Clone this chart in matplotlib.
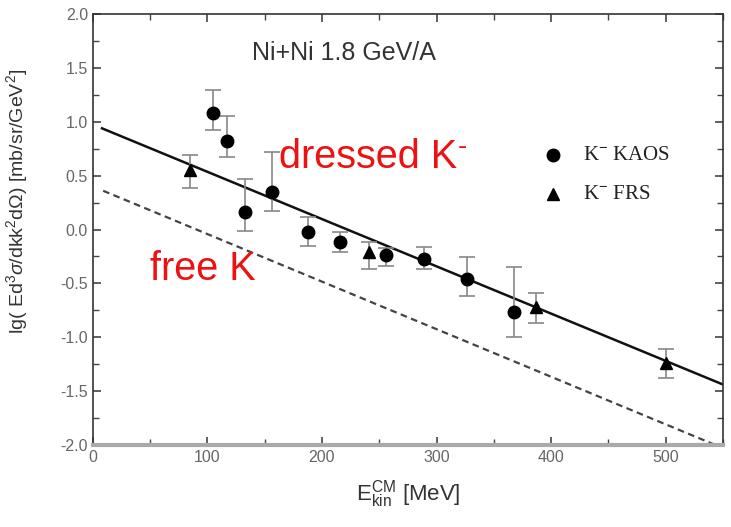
import matplotlib.pyplot as plt
from matplotlib.ticker import MultipleLocator
import numpy as np

plt.rcParams['font.family'] = ['Liberation Sans', 'DejaVu Sans']
plt.rcParams['mathtext.fontset'] = 'custom'
plt.rcParams['mathtext.rm'] = 'Liberation Sans'
plt.rcParams['mathtext.it'] = 'Liberation Sans:italic'

# K- KAOS data (circles)
kaos_e = [105, 117, 133, 156, 188, 216, 256, 289, 327, 368]
kaos_y = [1.08, 0.82, 0.16, 0.35, -0.02, -0.12, -0.24, -0.27, -0.46, -0.77]
kaos_up = [1.30, 1.05, 0.47, 0.72, 0.12, -0.02, -0.17, -0.16, -0.26, -0.35]
kaos_lo = [0.92, 0.67, -0.01, 0.17, -0.15, -0.21, -0.34, -0.37, -0.62, -1.00]

# K- FRS data (triangles)
frs_e = [85, 241, 387, 500]
frs_y = [0.55, -0.21, -0.72, -1.24]
frs_up = [0.69, -0.12, -0.59, -1.11]
frs_lo = [0.39, -0.37, -0.87, -1.38]

# model curves (straight lines in lg scale)
dressed_e = [8, 550]
dressed_y = [0.94, -1.44]
free_e = [9, 543]
free_y = [0.36, -2.0]

fig = plt.figure(figsize=(7.31, 5.27), dpi=100)
ax = fig.add_axes([0.127, 0.156, 0.862, 0.817])

ax.plot(dressed_e, dressed_y, color='#111111', lw=1.8)
ax.plot(free_e, free_y, color='#444444', lw=1.6, ls=(0, (3, 2)))

def errs(y, up, lo):
    y = np.array(y)
    return [y - np.array(lo), np.array(up) - y]

ax.errorbar(kaos_e, kaos_y, yerr=errs(kaos_y, kaos_up, kaos_lo), fmt='o', color='black',
            ms=9, ecolor='#888888', elinewidth=1.2, capsize=6, capthick=1.2, zorder=3)
ax.errorbar(frs_e, frs_y, yerr=errs(frs_y, frs_up, frs_lo), fmt='^', color='black',
            ms=9, ecolor='#888888', elinewidth=1.2, capsize=6, capthick=1.2, zorder=3)

ax.set_xlim(0, 550)
ax.set_ylim(-2.0, 2.0)
ax.xaxis.set_major_locator(MultipleLocator(100))
ax.xaxis.set_minor_locator(MultipleLocator(50))
ax.yaxis.set_major_locator(MultipleLocator(0.5))
ax.yaxis.set_minor_locator(MultipleLocator(0.25))
ax.yaxis.set_major_formatter(plt.FuncFormatter(lambda v, p: f'{v:.1f}'))
ax.tick_params(which='both', direction='in', top=True, right=True, colors='#444444',
               labelcolor='#666666', labelsize=11.5)
ax.tick_params(which='major', length=6, width=1.2)
ax.tick_params(which='minor', length=4, width=1.0)
for side in ['top', 'left', 'right']:
    ax.spines[side].set_color('#333333')
    ax.spines[side].set_linewidth(1.2)
ax.spines['bottom'].set_color('#aaaaaa')
ax.spines['bottom'].set_linewidth(3)

ax.set_xlabel(r'E$_{\rm kin}^{\rm CM}$ [MeV]', fontsize=16, color='#333333', labelpad=10)
ax.set_ylabel(r'lg( Ed$^3\sigma$/dkk$^2$d$\Omega$) [mb/sr/GeV$^2$]', fontsize=14,
              color='#333333')
ax.yaxis.set_label_coords(-0.1, 0.565)

ax.text(0.252, 0.91, 'Ni+Ni 1.8 GeV/A', transform=ax.transAxes, fontsize=18,
        color='#333333', va='center')
ax.text(0.295, 0.643, 'dressed K', transform=ax.transAxes, fontsize=28.5,
        color='#ee1111', va='baseline')
ax.text(0.587, 0.691, '-', transform=ax.transAxes, fontsize=20,
        color='#ee1111', ha='center', va='center')
ax.text(0.09, 0.383, 'free K', transform=ax.transAxes, fontsize=28.5,
        color='#ee1111', va='baseline')

# legend drawn by hand, like the original
ax.plot([0.73], [0.673], 'o', color='black', ms=9, transform=ax.transAxes)
ax.plot([0.73], [0.582], '^', color='black', ms=9, transform=ax.transAxes)
ax.text(0.778, 0.673, r'K$^{-}$ KAOS', transform=ax.transAxes, fontsize=15,
        family='Liberation Serif', va='center', color='#222222')
ax.text(0.778, 0.582, r'K$^{-}$ FRS', transform=ax.transAxes, fontsize=15,
        family='Liberation Serif', va='center', color='#222222')

fig.savefig('out.png', dpi=100)
